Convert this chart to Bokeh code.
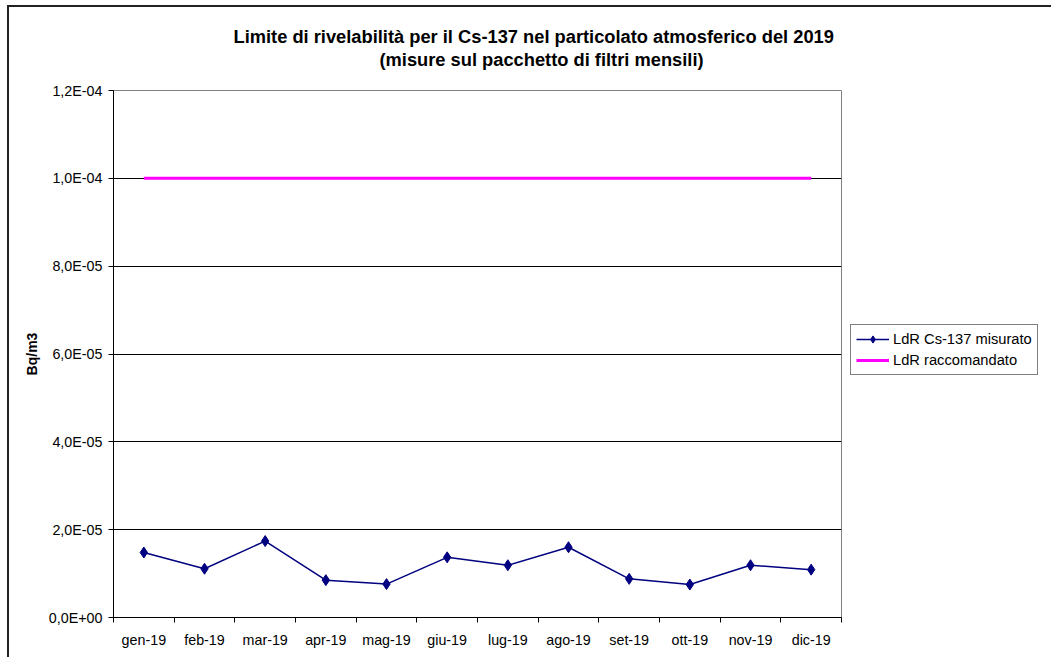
from bokeh.plotting import figure
from bokeh.models import (FixedTicker, CustomJSTickFormatter, Title, Legend,
                          LegendItem, Range1d, ColumnDataSource)
from bokeh.embed import file_html
from bokeh.resources import INLINE

# ---- data ----
months = ["gen-19", "feb-19", "mar-19", "apr-19", "mag-19", "giu-19",
          "lug-19", "ago-19", "set-19", "ott-19", "nov-19", "dic-19"]
ldr_measured = [1.48e-5, 1.11e-5, 1.74e-5, 0.85e-5, 0.76e-5, 1.37e-5,
                1.19e-5, 1.60e-5, 0.88e-5, 0.75e-5, 1.19e-5, 1.09e-5]
ldr_recommended = [1.0e-4] * 12
y_ticks = [0.0, 2e-5, 4e-5, 6e-5, 8e-5, 1.0e-4, 1.2e-4]

title_1 = "Limite di rivelabilità per il Cs-137 nel particolato atmosferico del 2019"
title_2 = "(misure sul pacchetto di filtri mensili)"
y_label = "Bq/m3"
name_measured = "LdR Cs-137 misurato"
name_recommended = "LdR raccomandato"

FONT = "Liberation Sans"

xpos = [i + 0.5 for i in range(len(months))]
src = ColumnDataSource(dict(x=xpos, m=ldr_measured, r=ldr_recommended))

p = figure(frame_width=728, frame_height=527, output_backend="svg",
           toolbar_location=None,
           x_range=Range1d(0, len(months)), y_range=Range1d(y_ticks[0], y_ticks[-1]),
           min_border_left=104, min_border_right=210, min_border_top=83,
           min_border_bottom=40)
p.title = None
p.styles = {"border-top": "2px solid #222", "border-left": "2px solid #222",
            "margin-left": "7px", "margin-top": "5px"}
p.background_fill_color = "white"
p.border_fill_color = "white"
p.outline_line_color = "#808080"
p.outline_line_width = 1

# titles (spacer nearest to the frame, then line 2, then line 1)
spacer = Title(text=" ", align="left", text_font=FONT, text_font_size="16px",
               standoff=2)
t2 = Title(text=title_2, align="left", text_font=FONT, text_font_size="18.3px",
           text_font_style="bold", text_color="black", standoff=0, offset=266,
           text_line_height=1.0)
t1 = Title(text=title_1, align="left", text_font=FONT, text_font_size="18.3px",
           text_font_style="bold", text_color="black", standoff=0, offset=120,
           text_line_height=1.0)
p.add_layout(spacer, "above")
p.add_layout(t2, "above")
p.add_layout(t1, "above")

# x axis
p.xaxis.ticker = FixedTicker(ticks=xpos, minor_ticks=list(range(len(months) + 1)))
p.xaxis.formatter = CustomJSTickFormatter(args=dict(labels=months),
                                          code="return labels[Math.floor(tick)];")
p.xaxis.major_tick_out = 0
p.xaxis.major_tick_in = 0
p.xaxis.minor_tick_out = 5
p.xaxis.minor_tick_in = 0
p.xaxis.minor_tick_line_color = "black"
p.xaxis.axis_line_color = "black"
p.xaxis.major_label_text_font = FONT
p.xaxis.major_label_text_font_size = "14.3px"
p.xaxis.major_label_text_color = "black"
p.xaxis.major_label_standoff = 9

# y axis
p.yaxis.ticker = FixedTicker(ticks=y_ticks)
p.yaxis.formatter = CustomJSTickFormatter(code="""
    const s = tick.toExponential(1);
    const parts = s.split('e');
    const n = parseInt(parts[1]);
    const sign = n < 0 ? '-' : '+';
    const a = Math.abs(n);
    return parts[0].replace('.', ',') + 'E' + sign + (a < 10 ? '0' + a : '' + a);
""")
p.yaxis.major_tick_out = 5
p.yaxis.major_tick_in = 0
p.yaxis.minor_tick_line_color = None
p.yaxis.axis_line_color = "black"
p.yaxis.major_tick_line_color = "black"
p.yaxis.major_label_text_font = FONT
p.yaxis.major_label_text_font_size = "14.3px"
p.yaxis.major_label_text_color = "black"
p.yaxis.major_label_standoff = 6
p.yaxis.axis_label = y_label
p.yaxis.axis_label_text_font = FONT
p.yaxis.axis_label_text_font_size = "14px"
p.yaxis.axis_label_text_font_style = "bold"
p.yaxis.axis_label_text_color = "black"
p.yaxis.axis_label_standoff = 6

p.xgrid.grid_line_color = None
p.ygrid.grid_line_color = "black"
p.ygrid.grid_line_width = 1

# series
l1 = p.line("x", "m", source=src, line_color="#000080", line_width=1.5)
s1 = p.scatter("x", "m", source=src, marker="diamond", size=11,
               fill_color="#000080", line_color="#000080")
l2 = p.line("x", "r", source=src, line_color="#FF00FF", line_width=3)

legend = Legend(items=[LegendItem(label=name_measured, renderers=[l1, s1]),
                       LegendItem(label=name_recommended, renderers=[l2])],
                location=(9, 242), orientation="vertical",
                label_text_font=FONT, label_text_font_size="14.7px",
                label_text_color="black", border_line_color="black",
                border_line_width=1, background_fill_color="white",
                background_fill_alpha=1.0, glyph_width=33, glyph_height=18,
                label_standoff=4, padding=5, spacing=3, margin=0,
                label_height=18)
p.add_layout(legend, "right")

open("out.html", "w").write(file_html(p, INLINE))
